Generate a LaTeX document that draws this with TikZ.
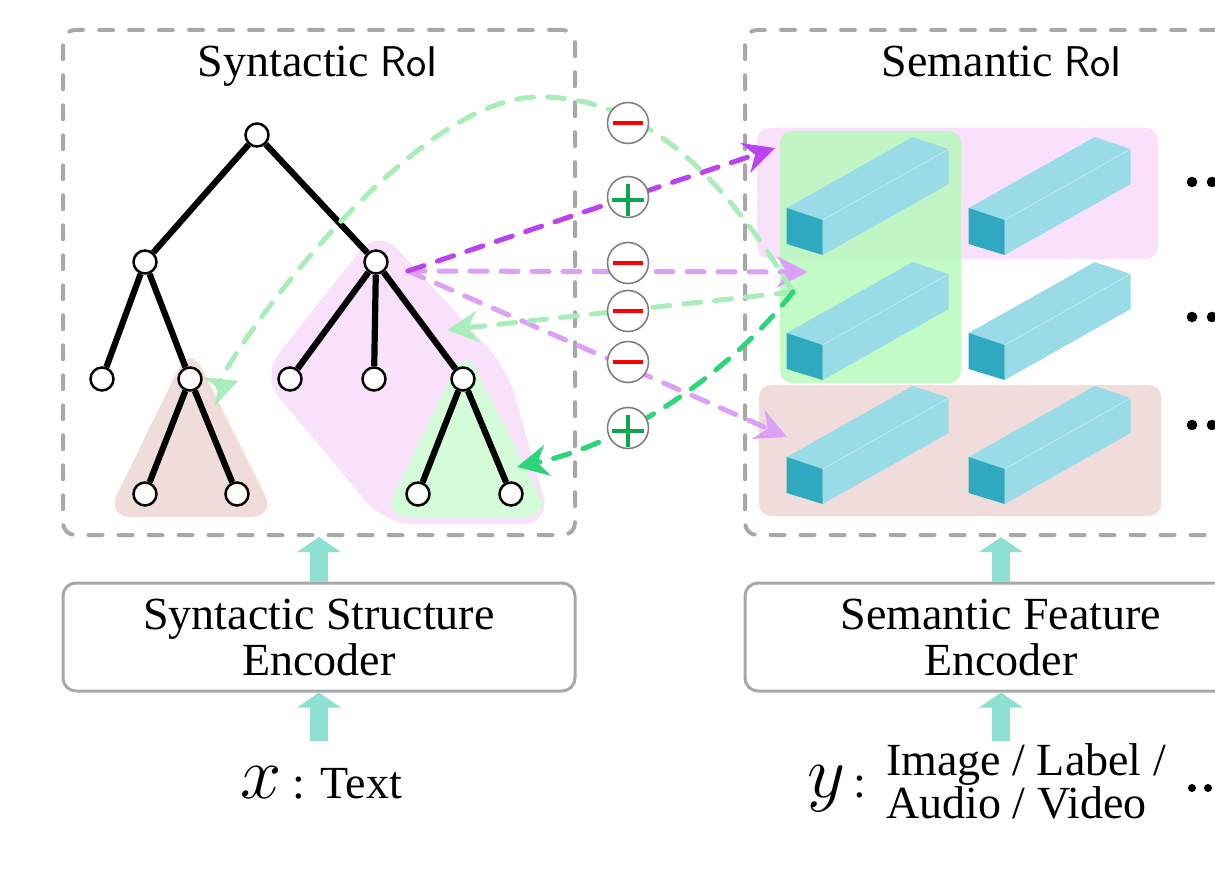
\RequirePackage{fix-cm}
\documentclass[tikz,border=0pt]{standalone}
\usepackage{fontspec}
\setmainfont{Liberation Serif}
\usetikzlibrary{arrows.meta,positioning}
\definecolor{roigray}{HTML}{A8A8A8}
\definecolor{pinkfill}{HTML}{F9E1FC}
\definecolor{brownfill}{HTML}{F0DCDA}
\definecolor{greenfill}{HTML}{D4FCD8}
\definecolor{greenbox}{RGB}{180,250,185}
\definecolor{barfront}{HTML}{2EA9C0}
\definecolor{bartop}{HTML}{99DCE8}
\definecolor{fatteal}{HTML}{8EE0D3}
\definecolor{posvio}{HTML}{BB44F0}
\definecolor{negvio}{HTML}{DDA0F8}
\definecolor{neggreen}{HTML}{A8EDBA}
\definecolor{posgreen}{HTML}{2DD67A}
\definecolor{minusred}{HTML}{FF0000}
\definecolor{plusgreen}{HTML}{0BA64E}
\tikzset{
  lbl/.style={font=\fontsize{46}{46}\selectfont, inner sep=0pt},
  roibox/.style={draw=roigray, line width=4pt, dash pattern=on 14pt off 16pt, line cap=round, rounded corners=12pt},
  encbox/.style={draw=roigray, line width=3pt, rounded corners=13pt, minimum width=512pt, minimum height=108pt, align=center, font=\fontsize{46}{46}\selectfont},
  tnode/.style={circle, draw, line width=2.5pt, fill=white, minimum size=23pt, inner sep=0pt},
  tedge/.style={line width=6.2pt},
  fatarrow/.style={fatteal, line width=18pt, -{Triangle[width=43pt,length=15pt]}},
  pairarrow/.style={line width=5pt, dash pattern=on 17pt off 14pt, line cap=round, -{Stealth[length=31pt,width=31pt,inset=10pt]}},
  signnode/.style={circle, draw=gray, line width=1.6pt, fill=white, minimum size=41pt, inner sep=0pt},
  negsign/.style={signnode, path picture={\draw[minusred, line width=4.5pt] ([xshift=-15pt]path picture bounding box.center) -- ([xshift=15pt]path picture bounding box.center);}},
  possign/.style={signnode, path picture={\draw[plusgreen, line width=3.6pt] ([xshift=-16pt,yshift=-3pt]path picture bounding box.center) -- ([xshift=16pt,yshift=-3pt]path picture bounding box.center) ([yshift=-19pt]path picture bounding box.center) -- ([yshift=13pt]path picture bounding box.center);}},
  featbar/.pic={
    \fill[bartop] (0,-36) -- (126,-107) -- (162,-95) -- (36,-24) -- cycle;
    \fill[bartop] (36,-24) -- (162,-95) -- (162,-60) -- (36,11) -- cycle;
    \draw[white!50!bartop, line width=0.6pt] (36,-24) -- (162,-95);
    \fill[barfront] (0,0) -- (36,11) -- (36,-24) -- (0,-36) -- cycle;
  }
}
\begin{document}
\begin{tikzpicture}[x=1pt,y=-1pt]
\useasboundingbox (0,0) rectangle (1215,869);

% shaded subtrees
\fill[brownfill, rounded corners=25pt] (190,345) -- (106,517) -- (276,517) -- cycle;
\fill[pinkfill, rounded corners=28pt] (378,228) -- (507,368) -- (551,524) -- (385,524) -- (261,376) -- cycle;
\fill[greenfill, rounded corners=25pt] (465,347) -- (550,517) -- (383,517) -- cycle;

% RoI boxes
\node[roibox, minimum width=512pt, minimum height=505pt] (synroi) at (319,282.5) {};
\node[roibox, minimum width=512pt, minimum height=505pt] (semroi) at (1001,282.5) {};
\node[lbl, anchor=base] (syntitle) at (318,77) {Syntactic {\sffamily\fontsize{43}{43}\selectfont RoI}};
\node[lbl, anchor=base] (semtitle) at (1002,77) {Semantic {\sffamily\fontsize{43}{43}\selectfont RoI}};

% right side rows
\fill[pinkfill, rounded corners=12pt] (757,128) rectangle (1158,259);
\fill[brownfill, rounded corners=12pt] (759,385) rectangle (1161,516);
\fill[greenbox, fill opacity=0.8, rounded corners=12pt] (780,131) rectangle (961,383);
\foreach \yy in {244,369,493} {
  \pic at (786.7,\yy) {featbar};
  \pic at (968.7,\yy) {featbar};
}
\foreach \yy in {182,317,425}
  \fill (1192,\yy) circle[radius=5.3pt] (1212,\yy) circle[radius=5.3pt];

% encoders and inputs
\node[encbox] (synenc) at (319,637) {Syntactic Structure\\Encoder};
\node[encbox] (semenc) at (1001,637) {Semantic Feature\\Encoder};
\node[lbl, anchor=base] (xlab) at (321,798) {{\fontsize{74}{74}\selectfont$x$} : Text};
\node[lbl, anchor=base east] (ylab) at (866,797) {{\fontsize{74}{74}\selectfont$y$}\,:};
\node[lbl, anchor=base west] (ytxt) at (886,775) {Image / Label /};
\node[lbl, anchor=base west] (ytxt2) at (886,818) {Audio / Video};
\fill (1192,788) circle[radius=4pt] (1208,788) circle[radius=4pt] (1224,788) circle[radius=4pt];

\coordinate (xin) at (319,741);
\draw[fatarrow] (xin) -- (synenc.south);
\draw[fatarrow] (synenc.north) -- (synroi.south);
\draw[fatarrow] (semenc.south |- xin) -- (semenc.south);
\draw[fatarrow] (semenc.north) -- (semroi.south);

% syntax tree
\node[tnode] (root) at (257,135) {};
\node[tnode] (np) at (145,262) {};
\node[tnode] (vp) at (376,262) {};
\node[tnode] (nA) at (102,379) {};
\node[tnode] (nB) at (190,379) {};
\node[tnode] (nB1) at (145,494) {};
\node[tnode] (nB2) at (237,494) {};
\node[tnode] (vA) at (290,379) {};
\node[tnode] (vB) at (374,379) {};
\node[tnode] (vC) at (463,379) {};
\node[tnode] (vC1) at (418,494) {};
\node[tnode] (vC2) at (511,494) {};
\draw[tedge] (root) -- (np);
\draw[tedge] (root) -- (vp);
\draw[tedge] (np) -- (nA);
\draw[tedge] (np) -- (nB);
\draw[tedge] (nB) -- (nB1);
\draw[tedge] (nB) -- (nB2);
\draw[tedge] (vp) -- (vA);
\draw[tedge] (vp) -- (vB);
\draw[tedge] (vp) -- (vC);
\draw[tedge] (vC) -- (vC1);
\draw[tedge] (vC) -- (vC2);

% contrastive pairs
\coordinate (vsrc) at (408,271);
\coordinate (gsrc) at (793,292);
\coordinate (vtip1) at (775,148);
\coordinate (vtip2) at (808,272);
\coordinate (vtip3) at (787,437);
\coordinate (gtop) at (540,97);
\coordinate (gtip1) at (238,381);
\coordinate (gtip2) at (447,330);
\coordinate (gtip3) at (517,467);
\draw[pairarrow, negvio] (vsrc) -- (vtip2);
\draw[pairarrow, negvio] (vsrc) -- (vtip3);
\draw[pairarrow, posvio] (vsrc) -- (vtip1);
\draw[pairarrow, neggreen] (gsrc) .. controls (720,170) and (640,97) .. (gtop) .. controls (400,95) and (200,395) .. (gtip1);
\draw[pairarrow, neggreen] (gsrc) -- (gtip2);
\draw[pairarrow, posgreen] (gsrc) .. controls (740,360) and (640,440) .. (gtip3);

\node[negsign] (s1) at (628,123) {};
\node[possign] (s2) at (628,197) {};
\node[negsign] (s3) at (628,263) {};
\node[negsign] (s4) at (628,311) {};
\node[negsign] (s5) at (628,362) {};
\node[possign] (s6) at (628,428) {};
\end{tikzpicture}
\end{document}
